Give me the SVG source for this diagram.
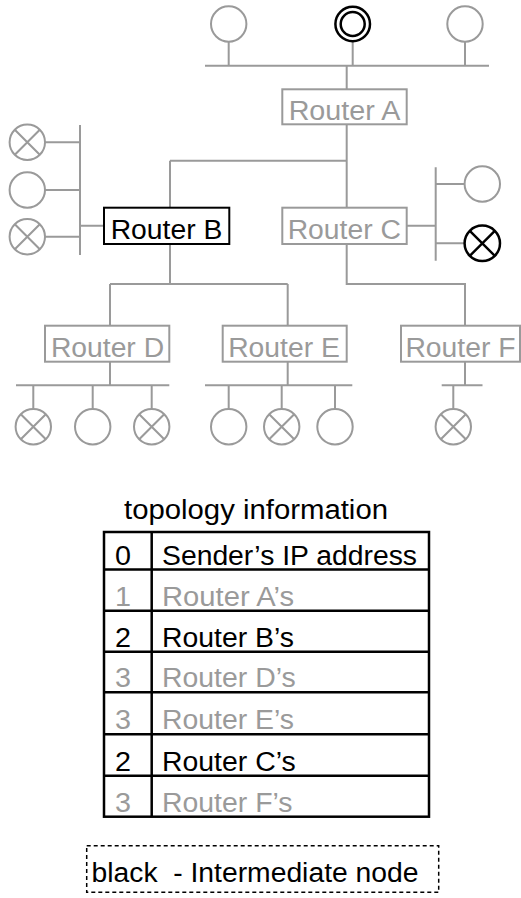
<svg xmlns="http://www.w3.org/2000/svg" width="521" height="898" viewBox="0 0 521 898">
<style>
text{font-family:"Liberation Sans",Arial,sans-serif;font-size:27px}
.g{fill:#9a9a9a}
.k{fill:#000}
.mid{text-anchor:middle}
.ln{stroke:#9a9a9a;stroke-width:2;fill:none}
.box{fill:#fff;stroke:#9a9a9a;stroke-width:2}
.boxk{fill:#fff;stroke:#000;stroke-width:2}
.host{fill:#fff;stroke:#9a9a9a;stroke-width:2}
.hostk{fill:#fff;stroke:#000;stroke-width:2.5}
.tb{stroke:#000;stroke-width:2.5;fill:none}
</style>
<defs>
<g id="h"><circle class="host" r="17.7"/></g>
<g id="x"><circle class="host" r="17.7"/><path class="ln" d="M-12.5,-12.5L12.5,12.5M12.5,-12.5L-12.5,12.5"/></g>
</defs>
<g id="connectors">
<path class="ln" d="M228.7,42V65.7M352.7,42V65.7M465,42V65.7M205,65.7H489M346.7,65.7V89.3"/>
<path class="ln" d="M346.7,124.3V207.7M170,160.7H346.7M170,160.7V207.7"/>
<path class="ln" d="M80,125V255M45,142.3H80M45,190H80M45,236.7H80M80,225.7H104"/>
<path class="ln" d="M435.7,167.3V260.7M406.7,225.7H435.7M435.7,184H464.5M435.7,243.3H464.5"/>
<path class="ln" d="M170,244V284M110,284H287.7M110,284V325.7M287.7,284V325.7"/>
<path class="ln" d="M346.7,244V284H465V326.5"/>
<path class="ln" d="M110,361.7V385.3M16,385.3H169.3M33.3,385.3V409M92.7,385.3V409M151.7,385.3V409"/>
<path class="ln" d="M287.7,361.7V385.3M205,385.3H352.3M228.7,385.3V409M281.7,385.3V409M335,385.3V409"/>
<path class="ln" d="M465,361V385.3M441.7,385.3H482.5M453.3,385.3V409"/>
</g>
<g id="top-hosts">
<use href="#h" x="228.7" y="24"/>
<g id="sender"><circle class="hostk" cx="352.7" cy="24" r="17.3"/><circle class="hostk" cx="352.7" cy="24" r="12"/></g>
<use href="#h" x="465" y="24"/>
</g>
<g id="routerA"><rect class="box" x="282.3" y="89.3" width="124.4" height="35"/><text class="g mid" x="344.5" y="119.5" textLength="111.7" lengthAdjust="spacingAndGlyphs">Router A</text></g>
<g id="routerB"><rect class="boxk" x="104" y="207.7" width="125.3" height="36.3"/><text class="k mid" x="166.5" y="238.8" textLength="111.7" lengthAdjust="spacingAndGlyphs">Router B</text></g>
<g id="routerC"><rect class="box" x="282.3" y="207.7" width="124.4" height="36.3"/><text class="g mid" x="344.3" y="238.8" textLength="113.2" lengthAdjust="spacingAndGlyphs">Router C</text></g>
<g id="routerD"><rect class="box" x="45" y="325.7" width="124.3" height="36"/><text class="g mid" x="107.5" y="356.5" textLength="113.2" lengthAdjust="spacingAndGlyphs">Router D</text></g>
<g id="routerE"><rect class="box" x="222.7" y="325.7" width="124" height="36"/><text class="g mid" x="284" y="356.5" textLength="111.7" lengthAdjust="spacingAndGlyphs">Router E</text></g>
<g id="routerF"><rect class="box" x="401" y="325.7" width="119" height="36"/><text class="g mid" x="460.5" y="356.5" textLength="110.1" lengthAdjust="spacingAndGlyphs">Router F</text></g>
<g id="left-hosts">
<use href="#x" x="27.3" y="142.3"/>
<use href="#h" x="27.3" y="190"/>
<use href="#x" x="27.3" y="236.7"/>
</g>
<g id="right-hosts">
<use href="#h" x="482.3" y="184"/>
<g id="dest"><circle class="hostk" cx="482.3" cy="243.3" r="17.7"/><path d="M469.8,230.8L494.8,255.8M494.8,230.8L469.8,255.8" stroke="#000" stroke-width="2.5"/></g>
</g>
<g id="d-hosts">
<use href="#x" x="33.3" y="426.7"/>
<use href="#h" x="92.7" y="426.7"/>
<use href="#x" x="151.7" y="426.7"/>
</g>
<g id="e-hosts">
<use href="#h" x="228.7" y="426.7"/>
<use href="#x" x="281.7" y="426.7"/>
<use href="#h" x="335" y="426.7"/>
</g>
<g id="f-hosts">
<use href="#x" x="453.3" y="426.7"/>
</g>
<g id="table">
<text class="k mid" x="256" y="519" textLength="264" lengthAdjust="spacingAndGlyphs">topology information</text>
<rect class="tb" x="104" y="532" width="325" height="284.7"/>
<path class="tb" d="M151.7,532V816.7M104,569.5H429M104,610.7H429M104,651.7H429M104,692.3H429M104,734.3H429M104,775.7H429"/>
<text class="k mid" x="123" y="564.5" textLength="16" lengthAdjust="spacingAndGlyphs">0</text>
<text class="k" x="162" y="564.5" textLength="255" lengthAdjust="spacingAndGlyphs">Sender’s IP address</text>
<text class="g mid" x="123" y="605.7" textLength="16" lengthAdjust="spacingAndGlyphs">1</text>
<text class="g" x="162" y="605.7" textLength="132" lengthAdjust="spacingAndGlyphs">Router A’s</text>
<text class="k mid" x="123" y="646.7" textLength="16" lengthAdjust="spacingAndGlyphs">2</text>
<text class="k" x="162" y="646.7" textLength="132" lengthAdjust="spacingAndGlyphs">Router B’s</text>
<text class="g mid" x="123" y="687.3" textLength="16" lengthAdjust="spacingAndGlyphs">3</text>
<text class="g" x="162" y="687.3" textLength="133.7" lengthAdjust="spacingAndGlyphs">Router D’s</text>
<text class="g mid" x="123" y="729.3" textLength="16" lengthAdjust="spacingAndGlyphs">3</text>
<text class="g" x="162" y="729.3" textLength="132" lengthAdjust="spacingAndGlyphs">Router E’s</text>
<text class="k mid" x="123" y="770.7" textLength="16" lengthAdjust="spacingAndGlyphs">2</text>
<text class="k" x="162" y="770.7" textLength="133.7" lengthAdjust="spacingAndGlyphs">Router C’s</text>
<text class="g mid" x="123" y="811.7" textLength="16" lengthAdjust="spacingAndGlyphs">3</text>
<text class="g" x="162" y="811.7" textLength="130.5" lengthAdjust="spacingAndGlyphs">Router F’s</text>
</g>
<g id="legend">
<rect x="86.7" y="845.7" width="352" height="46.6" fill="none" stroke="#000" stroke-width="1.5" stroke-dasharray="4,3"/>
<text class="k" x="91.5" y="882" xml:space="preserve" textLength="327" lengthAdjust="spacingAndGlyphs">black  - Intermediate node</text>
</g>
</svg>
